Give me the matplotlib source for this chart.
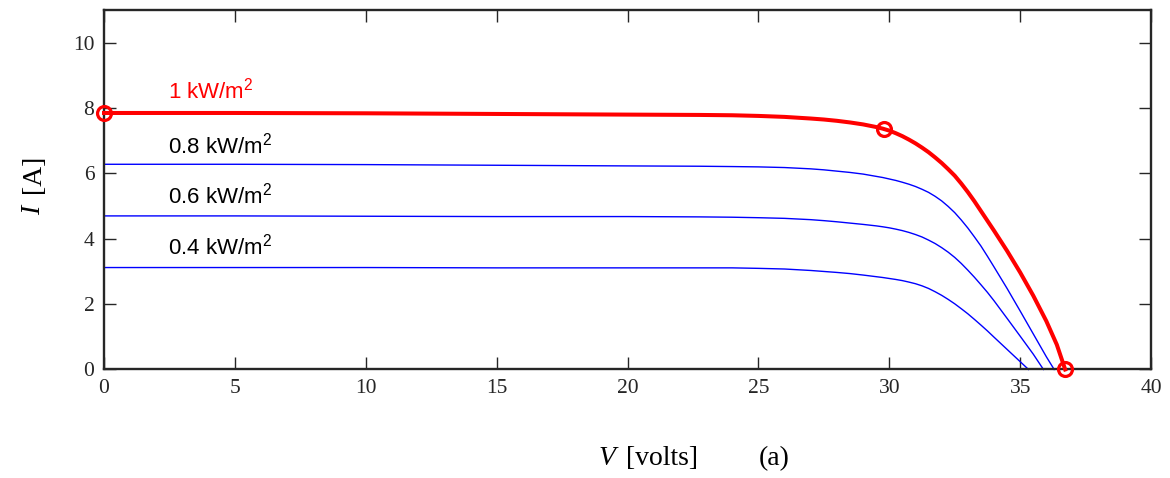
import matplotlib
matplotlib.use('Agg')
import matplotlib.pyplot as plt

# voltage points shared by all curves up to 34 V (denser around the knee)
v_common = [0, 5, 10, 15, 20, 22.75, 24, 25, 26, 27, 27.5, 28, 28.5, 29, 29.5,
            29.75, 30, 30.25, 30.5, 30.75, 31, 31.25, 31.5, 31.75, 32, 32.25,
            32.5, 32.75, 33, 33.25, 33.5, 33.75, 34]

# I-V curves (V in volts, I in amps)
v_1000 = v_common + [34.5, 35, 35.5, 36, 36.4, 36.72]
i_1000 = [7.85, 7.85, 7.84, 7.82, 7.80, 7.79, 7.78, 7.76, 7.73, 7.68, 7.65, 7.61,
          7.56, 7.50, 7.42, 7.37, 7.31, 7.23, 7.14, 7.035, 6.92, 6.79, 6.65, 6.49,
          6.32, 6.13, 5.93, 5.69, 5.43, 5.15, 4.85, 4.55, 4.25,
          3.63, 2.97, 2.26, 1.48, 0.76, 0.0]

v_800 = v_common + [34.5, 35, 35.5, 36, 36.3]
i_800 = [6.28, 6.28, 6.27, 6.25, 6.23, 6.22, 6.21, 6.20, 6.18, 6.14, 6.11, 6.07,
         6.03, 5.98, 5.91, 5.875, 5.83, 5.785, 5.73, 5.67, 5.60, 5.515, 5.42, 5.30,
         5.16, 4.99, 4.80, 4.575, 4.33, 4.06, 3.78, 3.465, 3.14,
         2.48, 1.79, 1.09, 0.39, 0.0]

v_600 = v_common + [34.5, 35, 35.5, 35.89]
i_600 = [4.70, 4.70, 4.69, 4.68, 4.68, 4.67, 4.66, 4.645, 4.625, 4.585, 4.555, 4.52,
         4.48, 4.44, 4.395, 4.367, 4.335, 4.295, 4.25, 4.195, 4.13, 4.055, 3.96, 3.855,
         3.73, 3.59, 3.43, 3.245, 3.04, 2.825, 2.595, 2.36, 2.105,
         1.565, 1.02, 0.47, 0.0]

v_400 = v_common + [34.5, 35, 35.32]
i_400 = [3.12, 3.12, 3.12, 3.11, 3.11, 3.11, 3.11, 3.095, 3.075, 3.03, 3.0, 2.97,
         2.935, 2.89, 2.84, 2.815, 2.785, 2.755, 2.72, 2.675, 2.625, 2.56, 2.48, 2.38,
         2.27, 2.145, 2.01, 1.86, 1.705, 1.535, 1.36, 1.18, 0.99,
         0.615, 0.24, 0.0]

# marked points on the 1 kW/m2 curve: Isc, MPP, Voc
mark_v = [0, 29.81, 36.72]
mark_i = [7.85, 7.36, 0.0]

labels = ['1 kW/m$^2$', '0.8 kW/m$^2$', '0.6 kW/m$^2$', '0.4 kW/m$^2$']
label_i = [8.29, 6.60, 5.09, 3.52]
label_v = 2.44

plt.rcParams['mathtext.fontset'] = 'custom'
plt.rcParams['mathtext.rm'] = 'Liberation Sans'
plt.rcParams['mathtext.it'] = 'Liberation Sans:italic'

dark = '#262626'
fig = plt.figure(figsize=(11.7, 4.78), dpi=100)
ax = fig.add_axes([0.0889, 0.227, 0.8949, 0.752])

for v, i in [(v_800, i_800), (v_600, i_600), (v_400, i_400)]:
    ax.plot(v, i, color='#0000ff', lw=1.0, clip_on=False)
ax.plot(v_1000, i_1000, color='#ff0000', lw=2.9, clip_on=False, zorder=4,
        solid_joinstyle='round')
ax.plot(mark_v, mark_i, 'o', ms=10, mfc='none', mec='#ff0000', mew=2.3,
        clip_on=False, zorder=5)

for k, (txt, yy) in enumerate(zip(labels, label_i)):
    ax.text(label_v, yy, txt, fontsize=16, family='Liberation Sans',
            color='#ff0000' if k == 0 else 'black', va='baseline', ha='left')

ax.set_xlim(0, 40)
ax.set_ylim(0, 11)
ax.set_xticks(range(0, 41, 5))
ax.set_yticks(range(0, 11, 2))
ax.tick_params(direction='in', length=8.5, width=1.0, color=dark,
               top=True, right=True, labelsize=15.5, labelcolor=dark, pad=7)
for lab in ax.get_xticklabels() + ax.get_yticklabels():
    lab.set_family('Liberation Serif')
for sp in ax.spines.values():
    sp.set_linewidth(1.7)
    sp.set_color(dark)

# axis labels, placed in figure pixels
W, H = 1170, 478
fig.text(599 / W, 1 - 465 / H, 'V', fontsize=20, family='Liberation Serif',
         style='italic', ha='left', va='baseline')
fig.text(626 / W, 1 - 465 / H, '[volts]', fontsize=20, family='Liberation Serif',
         ha='left', va='baseline')
fig.text(759 / W, 1 - 465 / H, '(a)', fontsize=20, family='Liberation Serif',
         ha='left', va='baseline')
fig.text(40 / W, 1 - 215 / H, 'I', fontsize=20, family='Liberation Serif',
         style='italic', rotation=90, rotation_mode='anchor', ha='left', va='baseline')
fig.text(40 / W, 1 - 193 / H, '[A]', fontsize=20, family='Liberation Serif',
         rotation=90, rotation_mode='anchor', ha='left', va='baseline')

fig.savefig('out.png', dpi=100, facecolor='white')
